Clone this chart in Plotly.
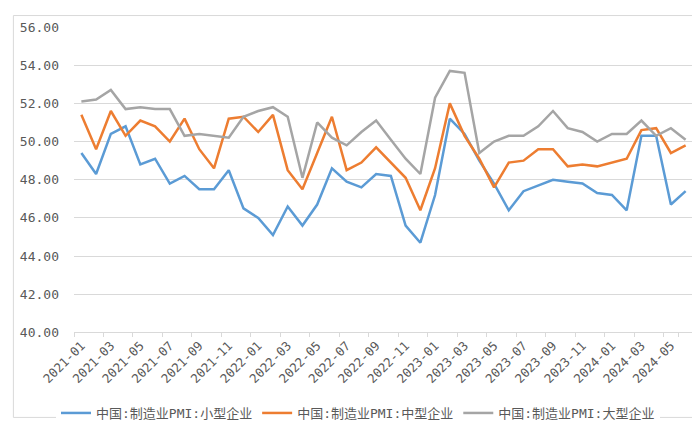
import plotly.graph_objects as go

months = [f"{y}-{m:02d}" for y in (2021, 2022, 2023) for m in range(1, 13)] + [f"2024-{m:02d}" for m in range(1, 7)]

small = [49.4, 48.3, 50.4, 50.8, 48.8, 49.1, 47.8, 48.2, 47.5, 47.5, 48.5, 46.5,
         46.0, 45.1, 46.6, 45.6, 46.7, 48.6, 47.9, 47.6, 48.3, 48.2, 45.6, 44.7,
         47.2, 51.2, 50.4, 49.0, 47.8, 46.4, 47.4, 47.7, 48.0, 47.9, 47.8, 47.3,
         47.2, 46.4, 50.3, 50.3, 46.7, 47.4]
medium = [51.4, 49.6, 51.6, 50.3, 51.1, 50.8, 50.0, 51.2, 49.6, 48.6, 51.2, 51.3,
          50.5, 51.4, 48.5, 47.5, 49.4, 51.3, 48.5, 48.9, 49.7, 48.9, 48.1, 46.4,
          48.6, 52.0, 50.3, 49.1, 47.6, 48.9, 49.0, 49.6, 49.6, 48.7, 48.8, 48.7,
          48.9, 49.1, 50.6, 50.7, 49.4, 49.8]
large = [52.1, 52.2, 52.7, 51.7, 51.8, 51.7, 51.7, 50.3, 50.4, 50.3, 50.2, 51.3,
         51.6, 51.8, 51.3, 48.1, 51.0, 50.2, 49.8, 50.5, 51.1, 50.1, 49.1, 48.3,
         52.3, 53.7, 53.6, 49.4, 50.0, 50.3, 50.3, 50.8, 51.6, 50.7, 50.5, 50.0,
         50.4, 50.4, 51.1, 50.3, 50.7, 50.1]

names = ["中国:制造业PMI:小型企业", "中国:制造业PMI:中型企业", "中国:制造业PMI:大型企业"]
colors = ["#5B9BD5", "#ED7D31", "#A5A5A5"]
tick_labels = months[::2]

W, H = 700, 424
L, R, T, B = 62, 15, 13, 91
FONT = "DejaVu Sans Mono, Noto Sans CJK SC, sans-serif"

fig = go.Figure()
for name, vals, col in zip(names, [small, medium, large], colors):
    fig.add_trace(go.Scatter(x=months, y=vals, name=name, mode="lines",
                             line=dict(color=col, width=2.5)))

pw, ph = W - L - R, H - T - B
def px_x(p):
    return (p - L) / pw
def px_y(p):
    return (H - B - p) / ph

fig.add_shape(type="rect", xref="paper", yref="paper",
              x0=px_x(1), x1=px_x(698), y0=px_y(422), y1=px_y(1),
              line=dict(color="#d9d9d9", width=1), layer="below")

fig.update_layout(
    width=W, height=H,
    margin=dict(l=L, r=R, t=T, b=B),
    paper_bgcolor="white", plot_bgcolor="white",
    font=dict(family=FONT, size=13, color="#595959"),
    showlegend=True,
    legend=dict(orientation="h", xref="container", yref="container",
                x=0.5, xanchor="center", y=1 - 405 / H, yanchor="middle",
                font=dict(size=13, color="#595959"), itemwidth=30,
                tracegroupgap=0, entrywidth=0),
    xaxis=dict(type="category", categoryorder="array", categoryarray=months,
               tickmode="array", tickvals=tick_labels, ticktext=tick_labels,
               tickangle=-45, tickson="boundaries", ticks="outside", ticklen=4,
               tickcolor="#d9d9d9", showline=True, linecolor="#d9d9d9", linewidth=1,
               showgrid=False, tickfont=dict(size=12.5, color="#595959"),
               range=[-0.5, len(months) - 0.5]),
    yaxis=dict(range=[40, 56], dtick=2, tick0=40, tickformat=".2f",
               showgrid=True, gridcolor="#d9d9d9", gridwidth=1,
               zeroline=False, showline=False, ticks="",
               ticklabelstandoff=14,
               tickfont=dict(size=13, color="#595959")),
)

fig.write_html("out.html")
